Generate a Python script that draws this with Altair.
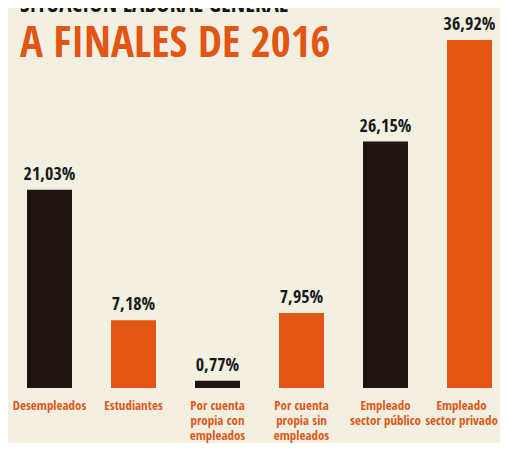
import altair as alt
import pandas as pd

categories = ["Desempleados", "Estudiantes", "Por cuenta|propia con|empleados",
              "Por cuenta|propia sin|empleados", "Empleado|sector público", "Empleado|sector privado"]
values = [21.03, 7.18, 0.77, 7.95, 26.15, 36.92]
labels = ["21,03%", "7,18%", "0,77%", "7,95%", "26,15%", "36,92%"]
bar_colors = ["#1f1411", "#e25512", "#1f1411", "#e25512", "#1f1411", "#e25512"]

df = pd.DataFrame({"cat": categories, "val": values, "lab": labels})

FONT = "Open Sans Condensed, Roboto Condensed, sans-serif"

x = alt.X("cat:N", sort=categories, title=None,
          scale=alt.Scale(paddingInner=0.4643, paddingOuter=0.1607, align=0.704),
          axis=alt.Axis(labelAngle=0, ticks=False, domain=False, labelPadding=11,
                        labelFontSize=13, labelColor="#e0581a", labelFont=FONT,
                        labelLineHeight=15, labelExpr="split(datum.label, '|')",
                        labelOffset={"condition": {"test": "datum.value == 'Empleado|sector privado'",
                                                   "value": -8}, "value": 0}))
y = alt.Y("val:Q", scale=alt.Scale(domain=[0, 40.316], nice=False), axis=None)

bars = alt.Chart(df).mark_bar().encode(
    x=x, y=y,
    color=alt.Color("cat:N", scale=alt.Scale(domain=categories, range=bar_colors), legend=None),
)
text = alt.Chart(df).mark_text(baseline="alphabetic", dy=-10, fontSize=18, font=FONT,
                               color="#1a1a1a").encode(x=x, y=y, text="lab:N")

t1 = alt.Chart(pd.DataFrame({"t": ["SITUACIÓN LABORAL GENERAL"]})).mark_text(
    align="left", baseline="alphabetic", fontSize=23, font=FONT, color="#161616"
).encode(x=alt.value(12), y=alt.value(4), text="t:N")
t2 = alt.Chart(pd.DataFrame({"t": ["A FINALES DE 2016"]})).mark_text(
    align="left", baseline="alphabetic", fontSize=43, font=FONT, color="#e25512"
).encode(x=alt.value(12), y=alt.value(49), text="t:N")

chart = alt.layer(bars, text, t1, t2).properties(
    width=492, height=380, background="#f3f0e2",
    padding={"left": 0, "top": 0, "right": 0, "bottom": 55},
    autosize=alt.AutoSizeParams(type="none"),
).configure_view(stroke=None)

chart.save("out.html", embed_options={"renderer": "svg", "actions": False})
